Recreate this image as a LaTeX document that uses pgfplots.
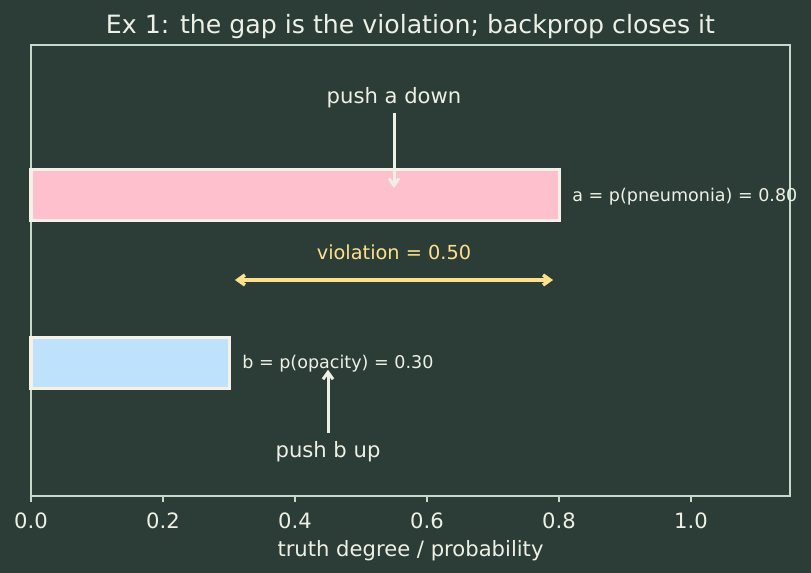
\documentclass[border=0pt]{standalone}
\usepackage{pgfplots}
\pgfplotsset{compat=1.18}
\usepackage{fontspec}
\setmainfont{DejaVu Sans}
\usetikzlibrary{arrows.meta}
\definecolor{bgc}{RGB}{43,61,54}
\definecolor{spinec}{RGB}{196,218,204}
\definecolor{txtc}{RGB}{238,240,230}
\definecolor{edgec}{RGB}{245,241,230}
\definecolor{pinkc}{RGB}{255,192,206}
\definecolor{bluec}{RGB}{190,225,252}
\definecolor{yelc}{RGB}{255,224,140}
\begin{document}
\begin{tikzpicture}
\fill[bgc] (-31bp,-77bp) rectangle (780bp,496bp);
\begin{axis}[
  at={(0,0)}, anchor=south west,
  scale only axis, width=759bp, height=451bp,
  xmin=0, xmax=1.15, ymin=-0.792, ymax=1.893,
  clip=false,
  axis line style={draw=spinec, line width=1.5bp},
  xtick={0,0.2,0.4,0.6,0.8,1.0},
  xticklabels={0.0,0.2,0.4,0.6,0.8,1.0},
  ytick=\empty,
  xtick pos=bottom, tick align=outside,
  major tick length=6bp,
  tick style={draw=spinec, line width=1.5bp},
  xticklabel style={font=\fontsize{21.2}{25}\selectfont, text=txtc, anchor=base, yshift=-26bp},
  /pgf/number format/assume math mode=true,
  xlabel={truth degree / probability},
  xlabel style={at={(axis description cs:0.5,0)}, anchor=base, yshift=-60bp, font=\fontsize{21.2}{25}\selectfont, text=txtc},
  title={Ex 1: the gap is the violation; backprop closes it},
  title style={at={(axis description cs:0.5,1)}, anchor=base, yshift=6bp, font=\fontsize{25.3}{30}\selectfont, text=txtc},
]
\addplot[xbar, bar shift=0pt, bar width=0.3, fill=pinkc, draw=edgec, line width=3bp] coordinates {(0.8,1)};
\addplot[xbar, bar shift=0pt, bar width=0.3, fill=bluec, draw=edgec, line width=3bp] coordinates {(0.3,0)};
% annotations
\addplot[txtc, line width=3bp, -{Straight Barb[length=7bp,width=10bp]}] coordinates {(0.55,1.488) (0.55,1.042)};
\addplot[txtc, line width=3bp, -{Straight Barb[length=7bp,width=10bp]}] coordinates {(0.45,-0.415) (0.45,-0.04)};
\addplot[yelc, line width=3.5bp, {Straight Barb[length=7bp,width=10bp]}-{Straight Barb[length=7bp,width=10bp]}] coordinates {(0.309,0.494) (0.791,0.494)};
\node[anchor=base, text=txtc, font=\fontsize{21.2}{25}\selectfont] at (axis cs:0.55,1.542) {push a down};
\node[anchor=base, text=txtc, font=\fontsize{21.2}{25}\selectfont] at (axis cs:0.45,-0.56) {push b up};
\node[anchor=base, text=yelc, font=\fontsize{19.4}{23}\selectfont] at (axis cs:0.55,0.613) {violation = 0.50};
\node[anchor=west, inner sep=0pt, yshift=-2bp, text=txtc, font=\fontsize{17.6}{21}\selectfont] at (axis cs:0.82,1) {a = p(pneumonia) = 0.80};
\node[anchor=west, inner sep=0pt, yshift=-1bp, text=txtc, font=\fontsize{17.6}{21}\selectfont] at (axis cs:0.32,0) {b = p(opacity) = 0.30};
\end{axis}
\pgfresetboundingbox
\path (-31bp,-77bp) rectangle (780bp,496bp);
\end{tikzpicture}
\end{document}
